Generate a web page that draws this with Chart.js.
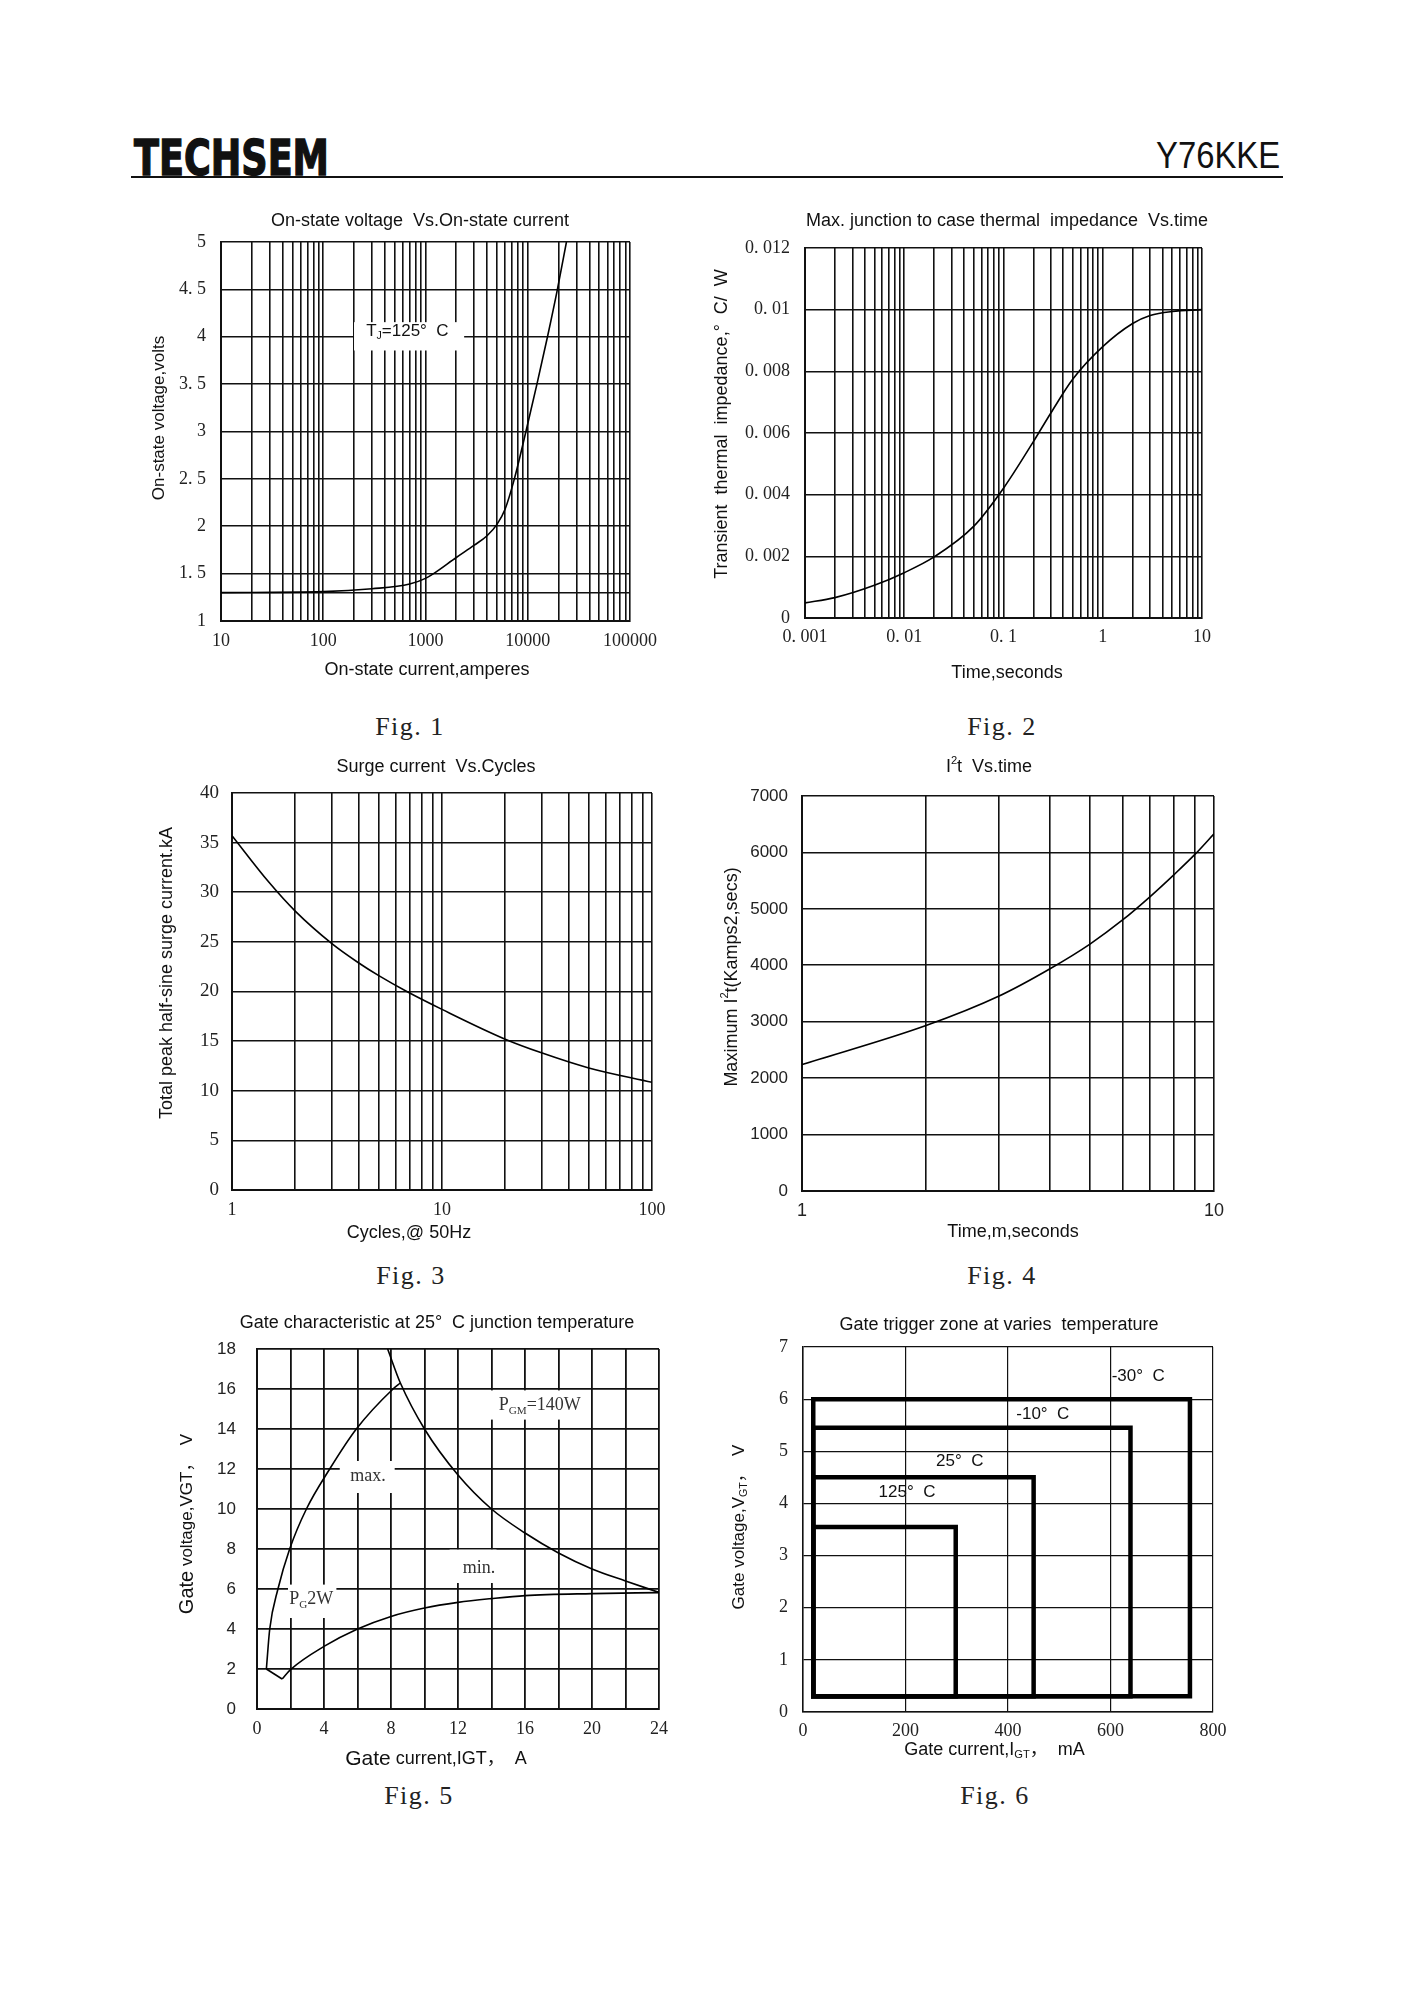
<!DOCTYPE html>
<html>
<head>
<meta charset="utf-8">
<script src="https://cdn.jsdelivr.net/npm/chart.js@4/dist/chart.umd.min.js"></script>
<style>
html,body{margin:0;padding:0;background:#fff;}
#page{position:relative;width:1414px;height:2000px;background:#fff;overflow:hidden;}
canvas{position:absolute;}
.txt{position:absolute;white-space:nowrap;color:#111;}
.fig{position:absolute;white-space:nowrap;color:#222;font-family:'Liberation Serif',serif;font-size:26px;line-height:26px;letter-spacing:1.5px;transform:translateX(-50%);}
</style>
</head>
<body>
<div id="page">
  <div id="brand" class="txt" style="left:134px;top:133.5px;font-family:'Liberation Sans Narrow','DejaVu Sans Condensed','Liberation Sans',sans-serif;font-weight:bold;font-size:49px;line-height:49px;-webkit-text-stroke:1.3px #111;">TECHSEM</div>
  <div id="model" class="txt" style="right:134px;top:137.5px;font-family:'Liberation Sans Narrow','Liberation Sans',sans-serif;font-size:36px;line-height:36px;">Y76KKE</div>
  <div style="position:absolute;left:131px;top:176px;width:1152px;height:2px;background:#111;"></div>

  <canvas id="c1"></canvas>
  <canvas id="c2"></canvas>
  <canvas id="c3"></canvas>
  <canvas id="c4"></canvas>
  <canvas id="c5"></canvas>
  <canvas id="c6"></canvas>

  <div class="fig" style="left:410px;top:714px;">Fig. 1</div>
  <div class="fig" style="left:1002px;top:714px;">Fig. 2</div>
  <div class="fig" style="left:411px;top:1263px;">Fig. 3</div>
  <div class="fig" style="left:1002px;top:1263px;">Fig. 4</div>
  <div class="fig" style="left:419px;top:1783px;">Fig. 5</div>
  <div class="fig" style="left:995px;top:1783px;">Fig. 6</div>
</div>
<script>
// ================= DATA =================
// Fig. 1  On-state voltage vs on-state current (Tj = 125 C)
const fig1CurrentA = [10, 100, 300, 700, 1000, 1200, 2000, 3000, 4000, 5000, 6000, 7400, 9600, 12300, 15600, 19500, 23900];
const fig1VoltageV = [1.30, 1.31, 1.34, 1.39, 1.45, 1.50, 1.67, 1.80, 1.90, 2.02, 2.18, 2.50, 3.00, 3.50, 4.00, 4.50, 5.00];
const fig1XTickValues = [10, 100, 1000, 10000, 100000];
const fig1XTickLabels = ['10', '100', '1000', '10000', '100000'];
const fig1YTickValues = [1, 1.5, 2, 2.5, 3, 3.5, 4, 4.5, 5];
const fig1YTickLabels = ['1', '1. 5', '2', '2. 5', '3', '3. 5', '4', '4. 5', '5'];
const fig1YExtraGrid = [1.3];

// Fig. 2  Transient thermal impedance vs time
const fig2TimeS = [0.001, 0.002, 0.005, 0.01, 0.02, 0.05, 0.1, 0.2, 0.3, 0.5, 1, 2, 3, 5, 10];
const fig2ZthCW = [0.00049, 0.00066, 0.00106, 0.00147, 0.00198, 0.00297, 0.00421, 0.00572, 0.00665, 0.00775, 0.00880, 0.00955, 0.00981, 0.00994, 0.0100];
const fig2XTickValues = [0.001, 0.01, 0.1, 1, 10];
const fig2XTickLabels = ['0. 001', '0. 01', '0. 1', '1', '10'];
const fig2YTickValues = [0, 0.002, 0.004, 0.006, 0.008, 0.01, 0.012];
const fig2YTickLabels = ['0', '0. 002', '0. 004', '0. 006', '0. 008', '0. 01', '0. 012'];

// Fig. 3  Surge current vs cycles
const fig3Cycles = [1, 1.5, 2, 3, 4, 5, 6.8, 10, 20, 30, 50, 100];
const fig3SurgeKA = [35.7, 31.0, 28.1, 24.8, 22.9, 21.6, 20.0, 18.2, 15.2, 13.8, 12.3, 10.85];
const fig3XTickValues = [1, 10, 100];
const fig3XTickLabels = ['1', '10', '100'];
const fig3YTickValues = [0, 5, 10, 15, 20, 25, 30, 35, 40];
const fig3YTickLabels = ['0', '5', '10', '15', '20', '25', '30', '35', '40'];

// Fig. 4  I2t vs time
const fig4TimeMs = [1, 2, 3, 4, 5, 6, 7, 8, 9, 10];
const fig4I2t = [2240, 2932, 3451, 3939, 4376, 4803, 5218, 5607, 5969, 6330];
const fig4XTickValues = [1, 10];
const fig4XTickLabels = ['1', '10'];
const fig4YTickValues = [0, 1000, 2000, 3000, 4000, 5000, 6000, 7000];
const fig4YTickLabels = ['0', '1000', '2000', '3000', '4000', '5000', '6000', '7000'];

// Fig. 5  Gate characteristic at 25 C
const fig5MaxI = [0.56, 0.76, 1.25, 1.95, 2.95, 4.34, 5.93, 8.12, 8.56];
const fig5MaxV = [2, 4, 6, 8, 10, 12, 14, 16, 16.3];
const fig5NotchI = [0.56, 1.5];
const fig5NotchV = [2.0, 1.5];
const fig5MinI = [1.5, 2, 4, 6, 8, 10, 12, 14, 16, 20, 24];
const fig5MinV = [1.5, 1.97, 3.13, 4.0, 4.63, 5.05, 5.33, 5.52, 5.67, 5.77, 5.82];
const fig5PgmI = [7.8, 8.56, 10, 12, 14, 16, 18, 20, 22, 24];
const fig5PgmV = [18, 16.3, 14, 11.7, 10, 8.8, 7.8, 7.0, 6.4, 5.83];
const fig5XGridValues = [0, 2, 4, 6, 8, 10, 12, 14, 16, 18, 20, 22, 24];
const fig5XTickValues = [0, 4, 8, 12, 16, 20, 24];
const fig5XTickLabels = ['0', '4', '8', '12', '16', '20', '24'];
const fig5YTickValues = [0, 2, 4, 6, 8, 10, 12, 14, 16, 18];
const fig5YTickLabels = ['0', '2', '4', '6', '8', '10', '12', '14', '16', '18'];

// Fig. 6  Gate trigger zone at various temperatures
const fig6ZoneLabels = ['-30°  C', '-10°  C', '25°  C', '125°  C'];
const fig6ZoneIgtMin = [20, 20, 20, 20];
const fig6ZoneIgtMax = [755, 639, 450, 298];
const fig6ZoneVgtMin = [0.3, 0.3, 0.3, 0.3];
const fig6ZoneVgtMax = [6.0, 5.45, 4.5, 3.55];
const fig6XTickValues = [0, 200, 400, 600, 800];
const fig6XTickLabels = ['0', '200', '400', '600', '800'];
const fig6YTickValues = [0, 1, 2, 3, 4, 5, 6, 7];
const fig6YTickLabels = ['0', '1', '2', '3', '4', '5', '6', '7'];

// ================= HELPERS =================
const SANS = "'Liberation Sans','Noto Sans CJK SC',Arial,sans-serif";
const SERIF = "'Liberation Serif','Noto Sans CJK SC','Times New Roman',serif";

function zip(xs, ys) { return xs.map((x, i) => ({x: x, y: ys[i]})); }
function same(a, b) { return Math.abs(a - b) <= 1e-12 + 1e-7 * Math.abs(b); }
function labelFor(vals, labels, v) {
  for (let i = 0; i < vals.length; i++) if (same(v, vals[i])) return labels[i];
  return '';
}
// grid values of a log axis: 1..9 x each decade
function logGrid(decades) {
  const out = [];
  for (let i = 0; i < decades.length - 1; i++) {
    for (let m = 1; m < 10; m++) out.push(+(decades[i] * m).toPrecision(8));
  }
  out.push(decades[decades.length - 1]);
  return out;
}

function drawRich(ctx, segs, x, y, rot) {
  ctx.save();
  ctx.translate(x, y);
  if (rot) ctx.rotate(rot);
  ctx.textBaseline = 'middle';
  ctx.textAlign = 'left';
  let total = 0;
  const items = segs.map(s => {
    const base = s.size || 18;
    const size = (s.sub || s.sup) ? base * 0.62 : base;
    const font = size + 'px ' + (s.fam || SANS);
    ctx.font = font;
    const w = ctx.measureText(s.t).width;
    total += w;
    return {t: s.t, font: font, w: w, dy: s.sub ? base * 0.28 : (s.sup ? -base * 0.36 : 0), color: s.color || '#111'};
  });
  let cx = -total / 2;
  items.forEach(it => {
    ctx.font = it.font;
    ctx.fillStyle = it.color;
    ctx.fillText(it.t, cx, it.dy);
    cx += it.w;
  });
  ctx.restore();
}

function decor(box, spec) {
  return {
    id: 'decor',
    beforeDatasetsDraw(chart) {
      const ctx = chart.ctx, sx = chart.scales.x, sy = chart.scales.y;
      (spec.notes || []).forEach(n => {
        if (!n.box) return;
        const x0 = sx.getPixelForValue(n.box[0]), x1 = sx.getPixelForValue(n.box[1]);
        const y0 = sy.getPixelForValue(n.box[2]), y1 = sy.getPixelForValue(n.box[3]);
        ctx.save();
        ctx.fillStyle = '#fff';
        ctx.fillRect(Math.min(x0, x1), Math.min(y0, y1), Math.abs(x1 - x0), Math.abs(y1 - y0));
        ctx.restore();
      });
    },
    afterDatasetsDraw(chart) {
      const ctx = chart.ctx, sx = chart.scales.x, sy = chart.scales.y;
      (spec.notes || []).forEach(n => {
        drawRich(ctx, n.segs, sx.getPixelForValue(n.at[0]), sy.getPixelForValue(n.at[1]), 0);
      });
    },
    afterDraw(chart) {
      (spec.texts || []).forEach(t => {
        drawRich(chart.ctx, t.segs, t.page[0] - box.x, t.page[1] - box.y, t.rot || 0);
      });
    }
  };
}

function axis(o) {
  return {
    type: o.type, min: o.min, max: o.max,
    afterBuildTicks: s => { s.ticks = o.grid.map(v => ({value: v})); },
    afterFit: s => { if (o.horizontal) s.height = o.size; else s.width = o.size; },
    grid: {display: true, color: '#111', lineWidth: o.gw, drawTicks: false, tickLength: 0},
    border: {display: true, color: '#111', width: o.bw},
    ticks: {
      autoSkip: false, maxRotation: 0, minRotation: 0, padding: o.pad,
      font: {family: o.fam, size: o.fs || 18, lineHeight: 1.2}, color: '#222',
      callback: v => labelFor(o.vals, o.labels, v)
    },
    title: {display: false}
  };
}

function build(id, box, spec) {
  const cv = document.getElementById(id);
  cv.width = box.w; cv.height = box.h;
  cv.style.left = box.x + 'px'; cv.style.top = box.y + 'px';
  cv.style.width = box.w + 'px'; cv.style.height = box.h + 'px';
  return new Chart(cv, {
    type: 'line',
    data: {datasets: spec.datasets},
    options: {
      responsive: false, animation: false, devicePixelRatio: 1, events: [],
      layout: {padding: {left: 0, top: box.pT, right: box.pR, bottom: 0}},
      plugins: {legend: {display: false}, tooltip: {enabled: false}, title: {display: false}},
      elements: {point: {radius: 0}, line: {borderColor: '#000', borderWidth: 1.6, fill: false}},
      scales: {x: spec.x, y: spec.y}
    },
    plugins: [decor(box, spec)]
  });
}

function curve(xs, ys, extra) {
  return Object.assign({data: zip(xs, ys), borderColor: '#000', borderWidth: 1.6, pointRadius: 0,
    cubicInterpolationMode: 'monotone', fill: false}, extra || {});
}

const ROT = -Math.PI / 2;

// ================= FIG 1 =================
build('c1', {x: 140, y: 200, w: 530, h: 481, pT: 42, pR: 40}, {
  datasets: [curve(fig1CurrentA, fig1VoltageV)],
  x: axis({type: 'logarithmic', min: 10, max: 100000, grid: logGrid(fig1XTickValues), vals: fig1XTickValues, labels: fig1XTickLabels,
           horizontal: true, size: 60, pad: 9.9, fam: SERIF, gw: 1.6, bw: 2}),
  y: axis({type: 'linear', min: 1, max: 5, grid: fig1YTickValues.concat(fig1YExtraGrid), vals: fig1YTickValues, labels: fig1YTickLabels,
           horizontal: false, size: 81, pad: 15, fam: SERIF, gw: 1.6, bw: 2}),
  notes: [{at: [665, 4.06], box: [200, 2388, 3.855, 4.154],
           segs: [{t: 'T', size: 17}, {t: 'J', size: 17, sub: true}, {t: '=125°  C', size: 17}]}],
  texts: [
    {page: [420, 221], segs: [{t: 'On-state voltage  Vs.On-state current'}]},
    {page: [159, 418], rot: ROT, segs: [{t: 'On-state voltage,volts', size: 17}]},
    {page: [427, 670], segs: [{t: 'On-state current,amperes'}]}
  ]
});

// ================= FIG 2 =================
build('c2', {x: 700, y: 200, w: 542, h: 490, pT: 48, pR: 40}, {
  datasets: [curve(fig2TimeS, fig2ZthCW)],
  x: axis({type: 'logarithmic', min: 0.001, max: 10, grid: logGrid(fig2XTickValues), vals: fig2XTickValues, labels: fig2XTickLabels,
           horizontal: true, size: 72, pad: 8.2, fam: SERIF, gw: 1.6, bw: 2}),
  y: axis({type: 'linear', min: 0, max: 0.012, grid: fig2YTickValues, vals: fig2YTickValues, labels: fig2YTickLabels,
           horizontal: false, size: 105, pad: 15, fam: SERIF, gw: 1.6, bw: 2}),
  texts: [
    {page: [1007, 221], segs: [{t: 'Max. junction to case thermal  impedance  Vs.time'}]},
    {page: [722, 424], rot: ROT, segs: [{t: 'Transient  thermal  impedance,°  C/  W'}]},
    {page: [1007, 673], segs: [{t: 'Time,seconds'}]}
  ]
});

// ================= FIG 3 =================
build('c3', {x: 140, y: 745, w: 552, h: 505, pT: 48, pR: 40}, {
  datasets: [curve(fig3Cycles, fig3SurgeKA)],
  x: axis({type: 'logarithmic', min: 1, max: 100, grid: logGrid(fig3XTickValues), vals: fig3XTickValues, labels: fig3XTickLabels,
           horizontal: true, size: 60, pad: 9.2, fam: SERIF, gw: 1.6, bw: 2}),
  y: axis({type: 'linear', min: 0, max: 40, grid: fig3YTickValues, vals: fig3YTickValues, labels: fig3YTickLabels,
           horizontal: false, size: 92, pad: 13, fam: SERIF, fs: 19, gw: 1.6, bw: 2}),
  texts: [
    {page: [436, 767], segs: [{t: 'Surge current  Vs.Cycles'}]},
    {page: [167, 973], rot: ROT, segs: [{t: 'Total peak half-sine surge current.kA'}]},
    {page: [409, 1233], segs: [{t: 'Cycles,@ 50Hz'}]}
  ]
});

// ================= FIG 4 =================
build('c4', {x: 700, y: 745, w: 554, h: 505, pT: 51, pR: 40}, {
  datasets: [curve(fig4TimeMs, fig4I2t)],
  x: axis({type: 'logarithmic', min: 1, max: 10, grid: logGrid(fig4XTickValues), vals: fig4XTickValues, labels: fig4XTickLabels,
           horizontal: true, size: 59, pad: 8.9, fam: SANS, gw: 1.6, bw: 2}),
  y: axis({type: 'linear', min: 0, max: 7000, grid: fig4YTickValues, vals: fig4YTickValues, labels: fig4YTickLabels,
           horizontal: false, size: 102, pad: 14, fam: SANS, fs: 17, gw: 1.6, bw: 2}),
  texts: [
    {page: [989, 767], segs: [{t: 'I'}, {t: '2', sup: true}, {t: 't  Vs.time'}]},
    {page: [731.6, 977], rot: ROT, segs: [{t: 'Maximum I'}, {t: '2', sup: true}, {t: 't(Kamps2,secs)'}]},
    {page: [1013, 1232], segs: [{t: 'Time,m,seconds'}]}
  ]
});

// ================= FIG 5 =================
build('c5', {x: 160, y: 1300, w: 539, h: 480, pT: 49, pR: 40}, {
  datasets: [
    curve(fig5MaxI, fig5MaxV),
    curve(fig5NotchI, fig5NotchV, {cubicInterpolationMode: 'default', tension: 0}),
    curve(fig5MinI, fig5MinV),
    curve(fig5PgmI, fig5PgmV)
  ],
  x: axis({type: 'linear', min: 0, max: 24, grid: fig5XGridValues, vals: fig5XTickValues, labels: fig5XTickLabels,
           horizontal: true, size: 71, pad: 9.5, fam: SERIF, gw: 1.8, bw: 2}),
  y: axis({type: 'linear', min: 0, max: 18, grid: fig5YTickValues, vals: fig5YTickValues, labels: fig5YTickLabels,
           horizontal: false, size: 97, pad: 21, fam: SANS, fs: 17, gw: 1.8, bw: 2}),
  notes: [
    {at: [6.63, 11.63], box: [4.94, 8.22, 10.8, 12.4], segs: [{t: 'max.', fam: SERIF, color: '#333'}]},
    {at: [13.25, 7.05], box: [11.5, 14.3, 6.3, 7.97], segs: [{t: 'min.', fam: SERIF, color: '#333'}]},
    {at: [3.24, 5.47], box: [1.85, 4.74, 4.55, 6.22],
     segs: [{t: 'P', fam: SERIF, color: '#333'}, {t: 'G', fam: SERIF, sub: true, color: '#333'}, {t: '2W', fam: SERIF, color: '#333'}]},
    {at: [16.88, 15.17], box: [13.8, 19.3, 14.47, 15.93],
     segs: [{t: 'P', fam: SERIF, color: '#333'}, {t: 'GM', fam: SERIF, sub: true, color: '#333'}, {t: '=140W', fam: SERIF, color: '#333'}]}
  ],
  texts: [
    {page: [437, 1323], segs: [{t: 'Gate characteristic at 25°  C junction temperature'}]},
    {page: [187, 1524], rot: ROT, segs: [{t: 'Gate', size: 20}, {t: ' voltage,VGT，  V', size: 17}]},
    {page: [436, 1759], segs: [{t: 'Gate', size: 21}, {t: ' current,IGT，  A', size: 18}]}
  ]
});

// ================= FIG 6 =================
const fig6Datasets = fig6ZoneLabels.map((lab, i) => ({
  label: lab,
  data: [
    {x: fig6ZoneIgtMin[i], y: fig6ZoneVgtMin[i]},
    {x: fig6ZoneIgtMin[i], y: fig6ZoneVgtMax[i]},
    {x: fig6ZoneIgtMax[i], y: fig6ZoneVgtMax[i]},
    {x: fig6ZoneIgtMax[i], y: fig6ZoneVgtMin[i]},
    {x: fig6ZoneIgtMin[i], y: fig6ZoneVgtMin[i]}
  ],
  borderColor: '#000', borderWidth: 4.5, pointRadius: 0, tension: 0, fill: false,
  borderJoinStyle: 'miter', borderCapStyle: 'square'
}));
const fig6LabelAt = [[654, 6.43], [468, 5.71], [306, 4.80], [203, 4.21]];
build('c6', {x: 720, y: 1300, w: 533, h: 480, pT: 47, pR: 40}, {
  datasets: fig6Datasets,
  x: axis({type: 'linear', min: 0, max: 800, grid: fig6XTickValues, vals: fig6XTickValues, labels: fig6XTickLabels,
           horizontal: true, size: 68, pad: 8.9, fam: SERIF, gw: 1.2, bw: 1.5}),
  y: axis({type: 'linear', min: 0, max: 7, grid: fig6YTickValues, vals: fig6YTickValues, labels: fig6YTickLabels,
           horizontal: false, size: 83, pad: 15, fam: SERIF, gw: 1.2, bw: 1.5}),
  notes: fig6ZoneLabels.map((lab, i) => ({at: fig6LabelAt[i], segs: [{t: lab, size: 17}]})),
  texts: [
    {page: [999, 1325], segs: [{t: 'Gate trigger zone at varies  temperature'}]},
    {page: [739, 1527], rot: ROT, segs: [{t: 'Gate voltage,V', size: 17}, {t: 'GT', size: 17, sub: true}, {t: '，  V', size: 17}]},
    {page: [994.5, 1750], segs: [{t: 'Gate current,I'}, {t: 'GT', sub: true}, {t: '，  mA'}]}
  ]
});

// ================= HEADER FIT =================
function fitWidth(id, target, origin) {
  const el = document.getElementById(id);
  el.style.transform = 'none';
  const w = el.getBoundingClientRect().width;
  el.style.transformOrigin = origin;
  el.style.transform = 'scaleX(' + (target / w) + ')';
}
fitWidth('brand', 195, 'left center');
fitWidth('model', 124, 'right center');
</script>
</body>
</html>
